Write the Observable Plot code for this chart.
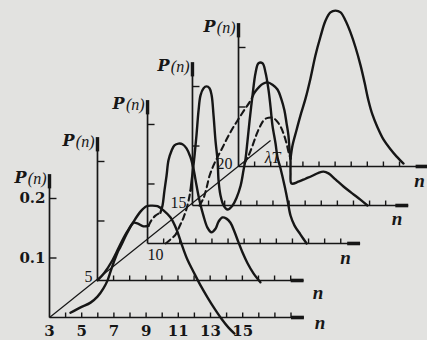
<!DOCTYPE html>
<html><head><meta charset="utf-8">
<script src="https://cdn.jsdelivr.net/npm/d3@7"></script>
<script src="https://cdn.jsdelivr.net/npm/@observablehq/plot@0.6"></script>
<style>
html,body{margin:0;padding:0;background:#e2e2e0;}
svg{display:block;}
</style></head><body><div id="chart"></div>
<script>
// ---------- data ----------
const lambdaT = [3, 5, 10, 15, 20];
const originLabels = ["3", "5", "10", "15", "20"];
const bottomTickLabels = [3, 5, 7, 9, 11, 13, 15];
const yTickValues = [0.1, 0.2];
const yTickLabels = ["0.1", "0.2"];

// curves: [n (relative to frame origin), P(n)]
const f0Solid = [[1.30,0.008],[1.93,0.017],[2.55,0.025],[2.98,0.035],[3.35,0.049],[3.60,0.062],[3.79,0.077],[3.98,0.092],[4.22,0.109],[4.41,0.119],[4.84,0.143],[5.22,0.161],[5.65,0.178],[6.02,0.187],[6.34,0.188],[6.71,0.187],[7.08,0.180],[7.52,0.168],[7.89,0.148],[8.26,0.119],[8.57,0.097],[8.94,0.077],[9.38,0.054],[9.81,0.034],[10.25,0.015],[10.68,-0.002],[11.12,-0.017],[11.49,-0.027]];
const f1SolidA = [[0,0],[0.43,0.013],[0.93,0.034],[1.30,0.054],[1.61,0.071],[1.93,0.086],[2.24,0.097],[2.48,0.096],[2.86,0.091],[3.17,0.092]];
const f1Dashed = [[3.17,0.092],[3.35,0.101],[3.60,0.109],[3.91,0.114]];
const f1SolidB = [[3.91,0.114],[4.04,0.126],[4.16,0.151],[4.29,0.176],[4.41,0.202],[4.60,0.218],[4.78,0.227],[5.03,0.230],[5.28,0.229],[5.53,0.222],[5.78,0.207],[5.96,0.188],[6.15,0.160],[6.34,0.134],[6.58,0.109],[6.83,0.089],[7.08,0.081],[7.33,0.087],[7.52,0.099],[7.76,0.106],[8.01,0.104],[8.26,0.097],[8.51,0.082],[8.76,0.064],[9.01,0.047],[9.32,0.029],[9.69,0.012],[10.12,-0.003]];
const f2Dashed = [[1.12,0],[1.74,0.015],[1.99,0.029],[2.24,0.044],[2.48,0.064],[2.67,0.089]];
const f2Solid = [[2.67,0.089],[2.80,0.119],[2.92,0.148],[3.04,0.182],[3.17,0.224],[3.29,0.249],[3.48,0.261],[3.66,0.264],[3.85,0.261],[3.98,0.249],[4.10,0.215],[4.22,0.173],[4.35,0.139],[4.41,0.106],[4.53,0.081],[4.72,0.064],[4.97,0.057],[5.28,0.064],[5.53,0.077],[5.78,0.097],[5.96,0.123],[6.09,0.143],[6.21,0.173],[6.34,0.207],[6.52,0.249],[6.71,0.287],[6.89,0.303],[7.14,0.303],[7.33,0.287],[7.52,0.257],[7.64,0.229],[7.76,0.198],[7.95,0.168],[8.07,0.145],[8.26,0.126],[8.51,0.097],[8.70,0.072],[8.88,0.047],[9.13,0.030],[9.50,0.015],[9.88,0]];
const f3Dashed = [[0.43,0],[0.68,0.012],[0.87,0.029],[1.06,0.050],[1.30,0.067],[1.55,0.081],[1.86,0.097],[2.17,0.114],[2.48,0.129],[2.80,0.143],[3.23,0.161],[3.60,0.176],[3.85,0.190]];
const f3Solid = [[3.85,0.190],[4.16,0.200],[4.41,0.205],[4.66,0.207],[4.97,0.203],[5.28,0.195],[5.53,0.178],[5.71,0.160],[5.84,0.139],[5.96,0.118],[6.02,0.097],[6.09,0.076],[6.09,0.055],[6.15,0.037],[6.58,0.040],[7.02,0.045],[7.45,0.050],[7.83,0.055],[8.14,0.057],[8.45,0.054],[8.88,0.044],[9.38,0.032],[9.94,0.020],[10.43,0.010],[10.87,0]];
const f4Dashed = [[0.37,0.005],[0.62,0.018],[0.87,0.035],[1.12,0.054],[1.37,0.069],[1.61,0.079],[1.86,0.082],[2.11,0.082],[2.36,0.077],[2.61,0.067],[2.80,0.055],[2.98,0.039],[3.11,0.024],[3.23,0.013]];
const f4Solid = [[3.23,0.013],[3.35,0.035],[3.60,0.061],[3.85,0.086],[4.16,0.114],[4.47,0.148],[4.78,0.187],[5.09,0.218],[5.40,0.245],[5.71,0.259],[6.02,0.262],[6.34,0.259],[6.65,0.245],[6.96,0.225],[7.27,0.200],[7.58,0.170],[7.83,0.141],[8.07,0.111],[8.32,0.087],[8.63,0.066],[9.01,0.045],[9.44,0.029],[9.81,0.017],[10.25,0.005]];

// ---------- layout (pseudo-3D placement of the five frames) ----------
const frameDX = [0, 2.98, 6.09, 8.88, 11.74];     // shift of each frame along n
const frameDY = [0, 0.0622, 0.1244, 0.1882, 0.2538]; // shift of each frame along P
const axisLen = [15.8, 12.8, 13.2, 13.4, 11.8];
const tickCount = [15, 12, 12, 12, 10];
const nLabelShift = [1.0, 0.9, -0.9, -0.7, -0.55];
const nLabelDy = [5, 12, 14, 13, 14];
const axisTop = 0.235;
const diagEnd = [13.73, 0.2975];
const PXN = 16.1, PXP = 595, OX = 49, OY = 317, W = 427, H = 340;

const frames = lambdaT.map((lt, i) => ({i, lt, label: originLabels[i], dx: frameDX[i], dy: frameDY[i], len: axisLen[i], ticks: tickCount[i]}));

const segs = [
  {f:0, dash:false, pts:f0Solid},
  {f:1, dash:false, pts:f1SolidA},
  {f:1, dash:true,  pts:f1Dashed},
  {f:1, dash:false, pts:f1SolidB},
  {f:2, dash:true,  pts:f2Dashed},
  {f:2, dash:false, pts:f2Solid},
  {f:3, dash:true,  pts:f3Dashed},
  {f:3, dash:false, pts:f3Solid},
  {f:4, dash:true,  pts:f4Dashed},
  {f:4, dash:false, pts:f4Solid}
];
const rows = segs.flatMap((s, k) => s.pts.map(([n, p]) => ({seg:k, f:s.f, dash:s.dash, n, p})));

const xTicks = frames.flatMap(fr => d3.range(1, fr.ticks + 1).map(k => ({f:fr.i, k})));
const yTicks = frames.flatMap(fr => yTickValues.map(v => ({f:fr.i, v})));
const bottomLabels = bottomTickLabels.map(v => ({v, n: v - lambdaT[0]}));

const ink = "#161616";
const serif = "'DejaVu Serif', 'Liberation Serif', serif";
const serif2 = "'Liberation Serif', 'DejaVu Serif', serif";

const gx = d => frameDX[d.f] + d.n;
const gy = d => frameDY[d.f] + d.p;

const plot = Plot.plot({
  width: W, height: H, margin: 0,
  x: {domain: [-OX / PXN, (W - OX) / PXN], range: [0, W], axis: null},
  y: {domain: [(OY - H) / PXP, OY / PXP], range: [H, 0], axis: null},
  style: {background: "transparent"},
  marks: [
    // lambda-T axis
    Plot.link([diagEnd], {x1: 0, y1: 0, x2: d => d[0], y2: d => d[1], stroke: ink, strokeWidth: 1.2}),
    // horizontal n axes
    Plot.link(frames, {x1: d => d.dx, y1: d => d.dy, x2: d => d.dx + d.len, y2: d => d.dy, stroke: ink, strokeWidth: 1.7}),
    Plot.link(frames, {x1: d => d.dx + d.len - 0.8, y1: d => d.dy, x2: d => d.dx + d.len, y2: d => d.dy, stroke: ink, strokeWidth: 3.6}),
    // vertical P axes
    Plot.link(frames, {x1: d => d.dx, y1: d => d.dy, x2: d => d.dx, y2: d => d.dy + axisTop, stroke: ink, strokeWidth: 1.7}),
    Plot.link(frames, {x1: d => d.dx, y1: d => d.dy + axisTop - 0.018, x2: d => d.dx, y2: d => d.dy + axisTop + 0.006, stroke: ink, strokeWidth: 3.4}),
    // ticks
    Plot.link(xTicks, {x1: d => frameDX[d.f] + d.k, x2: d => frameDX[d.f] + d.k, y1: d => frameDY[d.f], y2: d => frameDY[d.f] + 5 / PXP, stroke: ink, strokeWidth: 1.4}),
    Plot.link(yTicks, {x1: d => frameDX[d.f], x2: d => frameDX[d.f] + 7 / PXN, y1: d => frameDY[d.f] + d.v, y2: d => frameDY[d.f] + d.v, stroke: ink, strokeWidth: 1.4}),
    // curves
    Plot.line(rows.filter(d => !d.dash), {x: gx, y: gy, z: "seg", stroke: ink, strokeWidth: 2.4, curve: "catmull-rom", strokeLinejoin: "round"}),
    Plot.line(rows.filter(d => d.dash), {x: gx, y: gy, z: "seg", stroke: ink, strokeWidth: 2.1, strokeDasharray: "6,4", curve: "catmull-rom"}),
    // P(n) labels
    Plot.text(frames, {x: d => d.dx, y: d => d.dy + axisTop, text: () => "(n)", textAnchor: "end", dx: -3, dy: 1, fontFamily: serif2, fontStyle: "italic", fontSize: 16, fill: ink}),
    Plot.text(frames, {x: d => d.dx, y: d => d.dy + axisTop, text: () => "P", textAnchor: "end", dx: -23, dy: 0, fontFamily: serif, fontStyle: "italic", fontWeight: "bold", fontSize: 16, fill: ink}),
    // y tick labels on first frame
    Plot.text(yTickValues.map((v, i) => ({v, t: yTickLabels[i]})), {x: 0, y: "v", text: "t", textAnchor: "end", dx: -4, fontFamily: serif, fontWeight: "bold", fontSize: 15, fill: ink}),
    // bottom n labels
    Plot.text(bottomLabels, {x: "n", y: 0, text: d => String(d.v), dy: 14, fontFamily: serif, fontWeight: "bold", fontSize: 15, fill: ink}),
    // frame (lambda T) labels
    Plot.text(frames.filter(d => d.i === 1), {x: "dx", y: "dy", text: "label", dx: -9, dy: -4, fontFamily: serif2, fontSize: 16, fill: ink}),
    Plot.text(frames.filter(d => d.i === 2), {x: "dx", y: "dy", text: "label", dx: 8, dy: 11, fontFamily: serif2, fontSize: 16, fill: ink}),
    Plot.text(frames.filter(d => d.i >= 3), {x: "dx", y: "dy", text: "label", dx: -14, dy: -3, fontFamily: serif2, fontSize: 16, fill: ink}),
    Plot.text([diagEnd], {x: d => d[0], y: d => d[1], text: () => "λT", dx: 2, dy: 17, fontFamily: serif2, fontStyle: "italic", fontSize: 16, fill: ink}),
    // n labels at axis ends
    Plot.text(frames, {x: d => d.dx + d.len + nLabelShift[d.i], y: d => d.dy - nLabelDy[d.i] / PXP, text: () => "n", fontFamily: serif2, fontStyle: "italic", fontWeight: "bold", fontSize: 19, fill: ink})
  ]
});
document.getElementById("chart").append(plot);
</script>
</body></html>
